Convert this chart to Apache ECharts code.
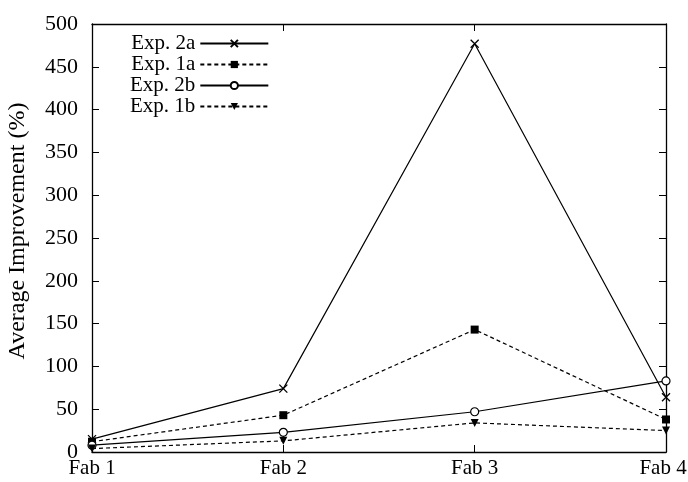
<!DOCTYPE html>
<html>
<head>
<meta charset="utf-8">
<script src="https://cdn.jsdelivr.net/npm/echarts@6/dist/echarts.min.js"></script>
<style>html,body{margin:0;padding:0;background:#fff;}#c{width:688px;height:482px;}</style>
</head>
<body>
<div id="c"></div>
<script>
const categories = ['Fab 1', 'Fab 2', 'Fab 3', 'Fab 4'];
const exp2a = [15, 74, 477, 64];
const exp1a = [12, 43, 143, 38];
const exp2b = [8, 23, 47, 83];
const exp1b = [4, 13, 34, 25];
const yTicks = [0, 50, 100, 150, 200, 250, 300, 350, 400, 450, 500];

const FONT = 'Liberation Serif';
const chart = echarts.init(document.getElementById('c'));
const crossPath = 'path://M0,0L10,10M10,0L0,10';
const triPath = 'path://M0,0L10,0L5,8Z';

function mk(name, data, dashed, symbol, size, itemStyle) {
  return {
    name: name, type: 'line', data: data, symbol: symbol, symbolSize: size,
    showAllSymbol: true,
    lineStyle: { color: '#000', width: 1.2, type: dashed ? [4, 3] : 'solid' },
    itemStyle: itemStyle,
    emphasis: { disabled: true },
    animation: false
  };
}

const axLine = { show: true, onZero: false, lineStyle: { color: '#000', width: 1.3 } };
const axTick = { show: true, inside: true, length: 7, lineStyle: { color: '#000', width: 1 } };

const catData = categories.map((c, i) => i === categories.length - 1
  ? { value: c, textStyle: { padding: [0, 6, 0, 0] } } : c);

chart.setOption({
  animation: false,
  backgroundColor: '#fff',
  grid: { left: 92, right: 22, top: 24, bottom: 30, outerBoundsMode: 'none', containLabel: false },
  legend: {
    left: 125, top: 28, orient: 'vertical', align: 'right',
    itemWidth: 68, itemHeight: 9, itemGap: 0,
    textStyle: { fontFamily: FONT, fontSize: 21, color: '#000', lineHeight: 21 },
    data: ['Exp. 2a', 'Exp. 1a', 'Exp. 2b', 'Exp. 1b']
  },
  xAxis: [{
    type: 'category', data: catData, boundaryGap: false,
    axisLine: axLine, axisTick: axTick,
    axisLabel: { fontFamily: FONT, fontSize: 21, color: '#000', margin: 6 },
    splitLine: { show: false }
  }, {
    type: 'category', data: categories, boundaryGap: false, position: 'top',
    axisLine: axLine, axisTick: axTick,
    axisLabel: { show: false }, splitLine: { show: false }
  }],
  yAxis: [{
    type: 'value', min: yTicks[0], max: yTicks[yTicks.length - 1], interval: 50,
    name: 'Average Improvement (%)', nameLocation: 'middle', nameGap: 62,
    nameTextStyle: { fontFamily: FONT, fontSize: 24, color: '#000', padding: [0, 0, 0, 14] },
    axisLine: axLine, axisTick: axTick,
    axisLabel: { fontFamily: FONT, fontSize: 22, color: '#000', margin: 14 },
    splitLine: { show: false }
  }, {
    type: 'value', min: yTicks[0], max: yTicks[yTicks.length - 1], interval: 50, position: 'right',
    axisLine: axLine, axisTick: axTick,
    axisLabel: { show: false }, splitLine: { show: false }
  }],
  series: [
    mk('Exp. 2a', exp2a, false, crossPath, 8, { color: 'rgba(0,0,0,0)', borderColor: '#000', borderWidth: 1.3 }),
    mk('Exp. 1a', exp1a, true, 'rect', 8, { color: '#000', borderWidth: 0 }),
    mk('Exp. 2b', exp2b, false, 'circle', 8, { color: '#fff', borderColor: '#000', borderWidth: 1.2 }),
    mk('Exp. 1b', exp1b, true, triPath, 8, { color: '#000', borderWidth: 0 })
  ]
});
</script>
</body>
</html>
